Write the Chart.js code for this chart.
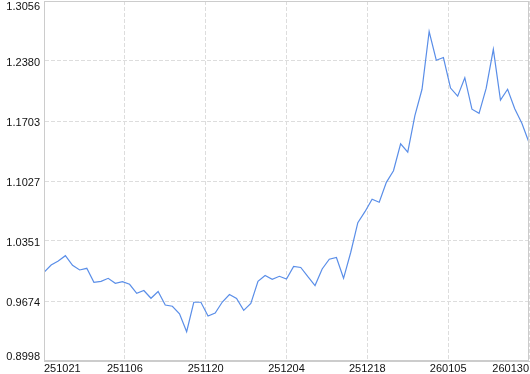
<!DOCTYPE html>
<html>
<head>
<meta charset="utf-8">
<script src="https://cdn.jsdelivr.net/npm/chart.js@4/dist/chart.umd.min.js"></script>
<style>
  html, body { margin: 0; padding: 0; background: #fff; }
  canvas { display: block; }
</style>
</head>
<body>
<canvas id="lineChart" width="530" height="374"></canvas>
<script>
// values, one per trading day
var values = [
  0.9998, 1.0080, 1.0125, 1.0185, 1.0077, 1.0024, 1.0043, 0.9885, 0.9896, 0.9930,
  0.9874, 0.9892, 0.9863, 0.9761, 0.9793, 0.9705, 0.9781, 0.9629, 0.9615, 0.9531,
  0.9328, 0.9660, 0.9660, 0.9505, 0.9539, 0.9663, 0.9748, 0.9703, 0.9569, 0.9648,
  0.9896, 0.9962, 0.9919, 0.9953, 0.9922, 1.0063, 1.0052, 0.9948, 0.9849, 1.0035,
  1.0145, 1.0165, 0.9930, 1.0221, 1.0557, 1.0681, 1.0821, 1.0787, 1.1012, 1.1143,
  1.1447, 1.1352, 1.1765, 1.2061, 1.2712, 1.2388, 1.2419, 1.2075, 1.1983, 1.2191,
  1.1836, 1.1790, 1.2073, 1.2511, 1.1940, 1.2061, 1.1841, 1.1677, 1.1461
];
var dateLabels = ['251021', '251106', '251120', '251204', '251218', '260105', '260130'];
var yTicks = [0.8998, 0.9674, 1.0351, 1.1027, 1.1703, 1.2380, 1.3056];

var points = values.map(function (v, i) { return { x: i, y: v }; });
var lastIndex = values.length - 1;

var gridColor = '#dddddd';
var boxColor = '#cccccc';
var textColor = '#111111';
var tickFont = { family: 'Liberation Sans', size: 11 };

// frame round the plot and the y labels, kept inside the plot height
var frame = {
  id: 'frame',
  afterDraw: function (chart) {
    var ctx = chart.ctx;
    var a = chart.chartArea;
    var ys = chart.scales.y;
    ctx.save();
    ctx.strokeStyle = boxColor;
    ctx.lineWidth = 1;
    ctx.strokeRect(Math.round(a.left) + 0.5, Math.round(a.top) + 0.5,
      Math.round(a.right - a.left) - 1, Math.round(a.bottom - a.top) - 1);
    ctx.fillStyle = textColor;
    ctx.font = '11px "Liberation Sans"';
    ctx.textAlign = 'right';
    ctx.textBaseline = 'middle';
    ys.ticks.forEach(function (t) {
      var py = ys.getPixelForValue(t.value) + 1.5;
      py = Math.min(Math.max(py, a.top + 5.5), a.bottom - 4.5);
      ctx.fillText(t.value.toFixed(4), a.left - 4, py);
    });
    ctx.restore();
  }
};

var chart = new Chart(document.getElementById('lineChart'), {
  type: 'line',
  data: {
    datasets: [{
      label: 'value',
      data: points,
      borderColor: '#5a8ee8',
      borderWidth: 1.2,
      pointRadius: 0,
      tension: 0,
      fill: false
    }]
  },
  options: {
    responsive: false,
    animation: false,
    devicePixelRatio: 1,
    layout: { padding: { top: 1, right: 1, left: 0, bottom: 0 } },
    plugins: { legend: { display: false }, tooltip: { enabled: false } },
    scales: {
      x: {
        type: 'linear',
        min: 0,
        max: lastIndex,
        afterBuildTicks: function (scale) {
          scale.ticks = dateLabels.map(function (d, k) {
            return { value: lastIndex * k / (dateLabels.length - 1) };
          });
        },
        afterFit: function (scale) { scale.height = 13; },
        ticks: {
          autoSkip: false,
          maxRotation: 0,
          align: 'inner',
          padding: 1,
          color: textColor,
          font: tickFont,
          callback: function (v, i) { return dateLabels[i]; }
        },
        grid: { color: gridColor, drawTicks: false },
        border: { color: boxColor, dash: [4, 2] }
      },
      y: {
        min: yTicks[0],
        max: yTicks[yTicks.length - 1],
        afterBuildTicks: function (scale) {
          scale.ticks = yTicks.map(function (v) { return { value: v }; });
        },
        afterFit: function (scale) { scale.width = 44; },
        ticks: { display: false },
        grid: { color: gridColor, drawTicks: false },
        border: { color: boxColor, dash: [4, 2] }
      }
    }
  },
  plugins: [frame]
});
</script>
</body>
</html>
